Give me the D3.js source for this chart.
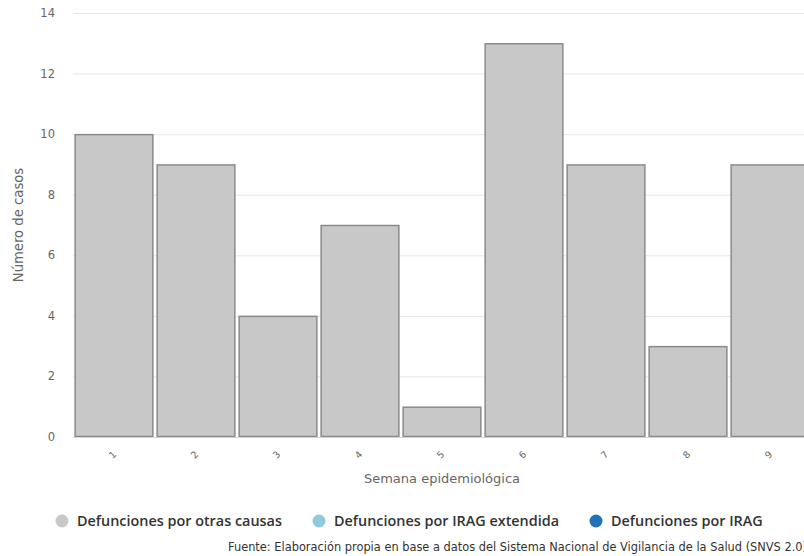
<!DOCTYPE html>
<html><head><meta charset="utf-8">
<script src="https://cdn.jsdelivr.net/npm/d3@7"></script>
<style>
html,body{margin:0;padding:0;background:#fff;overflow:hidden;}
svg{display:block;font-family:"DejaVu Sans","Open Sans",sans-serif;}
</style></head>
<body>
<svg id="chart" width="804" height="556"></svg>
<script>
const categories = ["1","2","3","4","5","6","7","8","9"];
const otrasCausas = [10, 9, 4, 7, 1, 13, 9, 3, 9];
const iragExtendida = [0, 0, 0, 0, 0, 0, 0, 0, 0];
const irag = [0, 0, 0, 0, 0, 0, 0, 0, 0];
const yTicks = [0, 2, 4, 6, 8, 10, 12, 14];
const seriesNames = ["Defunciones por otras causas", "Defunciones por IRAG extendida", "Defunciones por IRAG"];
const seriesColors = ["#c8c8c8", "#8fcbdc", "#2272b6"];

const svg = d3.select("#chart");
const pLeft = 73, pRight = 811, pTop = 13, pBottom = 437;

const x = d3.scaleBand().domain(categories).range([pLeft, pRight]).paddingInner(0.04).paddingOuter(0.02);
const y = d3.scaleLinear().domain([0, 14]).range([pBottom, pTop]);

// gridlines
svg.append("g").selectAll("line").data(yTicks.filter(d => d > 0)).join("line")
  .attr("x1", pLeft).attr("x2", pRight)
  .attr("y1", d => y(d) + 0.5).attr("y2", d => y(d) + 0.5)
  .attr("stroke", "#e6e6e6").attr("stroke-width", 1);

// y tick labels
svg.append("g").selectAll("text").data(yTicks).join("text")
  .attr("x", 55).attr("y", d => y(d) + 4)
  .attr("text-anchor", "end").attr("font-size", 11.5).attr("fill", "#666")
  .text(d => d);

// stacked bars
const stackData = categories.map((c, i) => ({cat: c, a: otrasCausas[i], b: iragExtendida[i], c2: irag[i]}));
const stack = d3.stack().keys(["a", "b", "c2"])(stackData);
svg.append("g").selectAll("g").data(stack).join("g")
  .attr("fill", (d, i) => seriesColors[i])
  .selectAll("rect").data(d => d.filter(p => p[1] - p[0] > 0)).join("rect")
  .attr("x", d => x(d.data.cat) + 0.5)
  .attr("y", d => y(d[1]) + 0.5)
  .attr("width", x.bandwidth() - 1)
  .attr("height", d => y(d[0]) - y(d[1]) - 1)
  .attr("stroke", "#8a8a8a").attr("stroke-width", 1.5);

// x axis line
svg.append("line").attr("x1", pLeft).attr("x2", pRight)
  .attr("y1", pBottom + 0.5).attr("y2", pBottom + 0.5)
  .attr("stroke", "#ccd6eb").attr("stroke-width", 1);

// x tick labels rotated
svg.append("g").selectAll("text").data(categories).join("text")
  .attr("transform", d => `translate(${x(d) + x.bandwidth() / 2 + 1},${pBottom + 20}) rotate(-45)`)
  .attr("text-anchor", "middle").attr("font-size", 9.5).attr("fill", "#666")
  .text(d => d);

// axis titles
svg.append("text").attr("x", (pLeft + pRight) / 2).attr("y", 483)
  .attr("text-anchor", "middle").attr("font-size", 13).attr("fill", "#666")
  .text("Semana epidemiológica");
svg.append("text").attr("transform", `translate(23,${(pTop + pBottom) / 2}) rotate(-90)`)
  .attr("text-anchor", "middle").attr("font-size", 13.2).attr("fill", "#666")
  .text("Número de casos");

// legend
const legendX = [62, 319, 596];
const lg = svg.append("g").selectAll("g").data(seriesNames).join("g")
  .attr("transform", (d, i) => `translate(${legendX[i]},521)`);
lg.append("circle").attr("r", 6.5).attr("fill", (d, i) => seriesColors[i]);
lg.append("text").attr("x", 15).attr("y", 5).attr("font-family", "'Open Sans',sans-serif")
  .attr("font-size", 14.4).attr("font-weight", 600)
  .attr("fill", "#333").text(d => d);

// source
svg.append("text").attr("x", 228).attr("y", 551).attr("font-size", 11.4).attr("fill", "#333")
  .text("Fuente: Elaboración propia en base a datos del Sistema Nacional de Vigilancia de la Salud (SNVS 2.0)");
</script>
</body></html>
